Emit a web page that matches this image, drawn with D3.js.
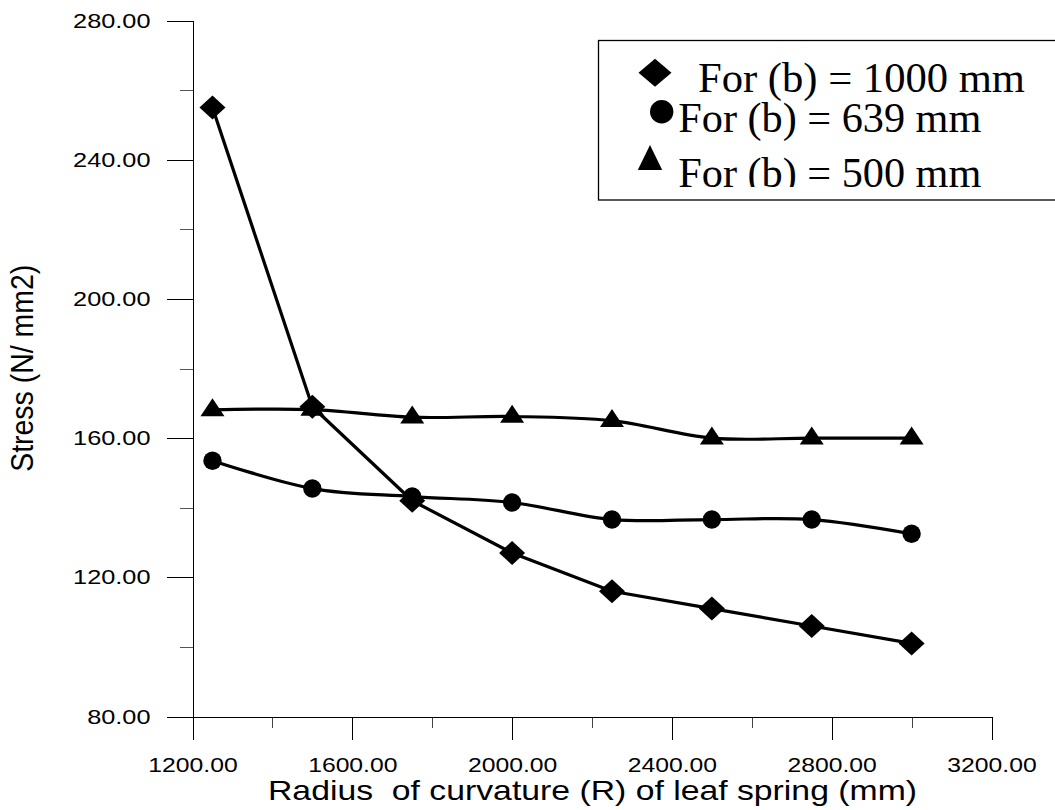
<!DOCTYPE html>
<html><head><meta charset="utf-8">
<script src="https://cdn.jsdelivr.net/npm/d3@7"></script>
<style>
html,body{margin:0;padding:0;background:#fff;}
svg{display:block;}
</style></head>
<body>
<svg id="chart" width="1055" height="810"></svg>
<script>
// ---- data ----
const radius = [1250, 1500, 1750, 2000, 2250, 2500, 2750, 3000];
const stress1000 = [255, 169, 142, 127, 116, 111, 106, 101];
const stress639 = [153.5, 145.5, 143.2, 141.5, 136.6, 136.6, 136.6, 132.5];
const stress500 = [168.1, 168.2, 166, 166.2, 165, 160, 160, 160];
const seriesNames = ["For (b) = 1000 mm", "For (b) = 639 mm", "For (b) = 500 mm"];
const xMajorTicks = [1200, 1600, 2000, 2400, 2800, 3200];
const xMinorTicks = [1400, 1800, 2200, 2600, 3000];
const yMajorTicks = [80, 120, 160, 200, 240, 280];
const yMinorTicks = [100, 140, 180, 220, 260];
const xTitle = "Radius  of curvature (R) of leaf spring (mm)";
const yTitle = "Stress (N/ mm2)";

const svg = d3.select("#chart");
const x = d3.scaleLinear().domain([1200, 3200]).range([192.5, 991.5]);
const y = d3.scaleLinear().domain([80, 280]).range([716.5, 20.5]);
const sans = "'Liberation Sans', Arial, sans-serif";
const serif = "'Liberation Serif', 'Times New Roman', serif";
const fmt = d3.format(".2f");

// ---- axes ----
const gx = svg.append("g").attr("transform", `translate(0,${y(80)})`);
gx.call(d3.axisBottom(x).tickValues(xMinorTicks).tickSize(11.5).tickSizeOuter(0).tickFormat(""));
gx.select(".domain").remove();
const gx2 = svg.append("g").attr("transform", `translate(0,${y(80)})`);
gx2.call(d3.axisBottom(x).tickValues(xMajorTicks).tickSize(23.5).tickSizeOuter(0).tickPadding(18).tickFormat(fmt));

const gy = svg.append("g").attr("transform", `translate(${x(1200)},0)`);
gy.call(d3.axisLeft(y).tickValues(yMinorTicks).tickSize(13).tickSizeOuter(0).tickFormat(""));
gy.select(".domain").remove();
const gy2 = svg.append("g").attr("transform", `translate(${x(1200)},0)`);
gy2.call(d3.axisLeft(y).tickValues(yMajorTicks).tickSize(26).tickSizeOuter(0).tickPadding(16).tickFormat(fmt));

svg.selectAll(".domain, .tick line").attr("stroke", "#000").attr("stroke-width", 1).attr("shape-rendering", "crispEdges");
gx.selectAll(".tick line").attr("stroke", "#444");
gy.selectAll(".tick line").attr("stroke", "#555");
svg.selectAll(".tick text").attr("fill", "#000").attr("font-family", sans);
gx2.selectAll(".tick text").attr("font-size", 20);
gy2.selectAll(".tick text").attr("font-size", 20.5);
// widen tick labels (original glyphs are horizontally stretched)
svg.selectAll(".tick text").each(function () {
  const w = this.getComputedTextLength();
  if (w > 0) d3.select(this).attr("textLength", w * 1.235).attr("lengthAdjust", "spacingAndGlyphs");
});

// axis titles
svg.append("text")
  .attr("x", 592.5).attr("y", 800)
  .attr("text-anchor", "middle")
  .attr("font-family", sans).attr("font-size", 28).attr("fill", "#000")
  .attr("xml:space", "preserve").style("white-space", "pre")
  .attr("textLength", 649).attr("lengthAdjust", "spacingAndGlyphs")
  .text(xTitle);

svg.append("g").attr("transform", "translate(33.3,368.3) scale(1.15,1)")
  .append("text")
  .attr("transform", "rotate(-90)")
  .attr("text-anchor", "middle")
  .attr("font-family", sans).attr("font-size", 28).attr("fill", "#000")
  .attr("textLength", 207).attr("lengthAdjust", "spacingAndGlyphs")
  .text(yTitle);

// ---- series ----
const series = [
  { vals: stress1000, shape: "diamond", curve: d3.curveLinear },
  { vals: stress639, shape: "circle", curve: d3.curveCardinal.tension(0) },
  { vals: stress500, shape: "triangle", curve: d3.curveCardinal.tension(0) }
];

function drawMarker(g, shape, cx, cy, big) {
  if (shape === "diamond") {
    const w = big ? 16.5 : 13, h = big ? 14 : 12;
    g.append("path").attr("d", `M${cx - w},${cy}L${cx},${cy - h}L${cx + w},${cy}L${cx},${cy + h}Z`).attr("fill", "#000");
  } else if (shape === "circle") {
    g.append("circle").attr("cx", cx).attr("cy", cy).attr("r", big ? 11.7 : 9.2).attr("fill", "#000");
  } else {
    if (big) {
      g.append("path").attr("d", `M${cx},${cy - 16.7}L${cx + 12.2},${cy + 8.3}L${cx - 12.2},${cy + 8.3}Z`).attr("fill", "#000");
    } else {
      g.append("path").attr("d", `M${cx},${cy - 11.7}L${cx + 12},${cy + 6.3}L${cx - 12},${cy + 6.3}Z`).attr("fill", "#000");
    }
  }
}

const plot = svg.append("g");
series.slice().reverse().forEach(s => {
  const pts = radius.map((r, i) => [r, s.vals[i]]);
  const line = d3.line().x(d => x(d[0])).y(d => y(d[1])).curve(s.curve);
  plot.append("path").attr("d", line(pts)).attr("fill", "none")
    .attr("stroke", "#000").attr("stroke-width", 3.2).attr("stroke-linejoin", "round");
});
series.slice().reverse().forEach(s => {
  radius.forEach((r, i) => drawMarker(plot, s.shape, x(r), y(s.vals[i]), false));
});

// ---- legend ----
const leg = svg.append("g");
leg.append("rect").attr("x", 598.5).attr("y", 40.5).attr("width", 470).attr("height", 159.5)
  .attr("fill", "#fff").attr("stroke", "#000").attr("stroke-width", 1.3);
svg.append("defs").append("clipPath").attr("id", "legclip")
  .append("rect").attr("x", 598).attr("y", 40).attr("width", 470).attr("height", 147);
const legText = leg.append("g").attr("clip-path", "url(#legclip)");
const legItems = [
  { tx: 698, ty: 91.7, mx: 655, my: 72.7, len: 327 },
  { tx: 678.3, ty: 131.7, mx: 661.7, my: 111.7, len: 303 },
  { tx: 678.3, ty: 186.7, mx: 650, my: 161.7, len: 303 }
];
legItems.forEach((it, i) => {
  drawMarker(leg, series[i].shape, it.mx, it.my, true);
  legText.append("text").attr("x", it.tx).attr("y", it.ty)
    .attr("font-family", serif).attr("font-size", 42).attr("fill", "#000")
    .attr("textLength", it.len).attr("lengthAdjust", "spacingAndGlyphs")
    .text(seriesNames[i]);
});
</script>
</body></html>
